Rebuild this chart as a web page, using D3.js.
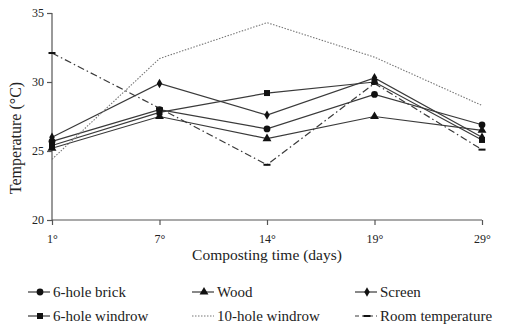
<!DOCTYPE html>
<html><head><meta charset="utf-8">
<script src="https://cdn.jsdelivr.net/npm/d3@7"></script>
<style>body{margin:0;background:#fff}svg{display:block}</style>
</head><body>
<svg id="c" width="523" height="331"></svg>
<script>
const days = ["1°","7°","14°","19°","29°"];
const brick   = [25.7, 28.0, 26.6, 29.1, 26.9];
const wood    = [25.2, 27.5, 25.9, 27.5, 26.5];
const screen  = [26.0, 29.9, 27.6, 30.3, 26.0];
const windrow6  = [25.4, 27.8, 29.2, 30.0, 25.8];
const windrow10 = [24.4, 31.7, 34.3, 31.8, 28.3];
const roomTemp  = [32.1, 28.1, 24.0, 29.9, 25.1];
const yTicks = [20, 25, 30, 35];

const series = [
  {name:"6-hole brick", values:brick, marker:"circle", dash:null},
  {name:"Wood", values:wood, marker:"triangle", dash:null},
  {name:"Screen", values:screen, marker:"diamond", dash:null},
  {name:"6-hole windrow", values:windrow6, marker:"square", dash:null},
  {name:"10-hole windrow", values:windrow10, marker:"none", dash:"1.5,1.5"},
  {name:"Room temperature", values:roomTemp, marker:"dash", dash:"7,3,1.5,3"}
];

const svg = d3.select("#c");
const col = "#3a3a3a";
const x = d3.scalePoint().domain(days).range([52, 482]);
const y = d3.scaleLinear().domain([20, 35]).range([220, 13]);

const gy = svg.append("g").attr("transform","translate(52,0)")
  .call(d3.axisLeft(y).tickValues(yTicks).tickSize(5).tickSizeOuter(0));
const gx = svg.append("g").attr("transform","translate(0,220)")
  .call(d3.axisBottom(x).tickSize(5).tickSizeOuter(0));
[gx, gy].forEach(g => {
  g.select(".domain").attr("stroke", "#555").attr("stroke-width", 1.2);
  g.selectAll(".tick line").attr("stroke", "#555").attr("stroke-width", 1.2);
  g.selectAll("text").attr("font-family","Liberation Serif").attr("font-size", 12).attr("fill","#222");
});
gx.selectAll("text").attr("dy", "1.25em");
gy.select(".domain").remove();
svg.append("line").attr("x1",52).attr("x2",52).attr("y1",y(20)).attr("y2",y(35)).attr("stroke","#555").attr("stroke-width",1.2);
gx.select(".domain").attr("d", `M52,0H${x(days[days.length-1])}`);

svg.append("text").attr("x", 267).attr("y", 260).attr("text-anchor","middle")
  .attr("font-family","Liberation Serif").attr("font-size", 15.5).attr("fill","#222")
  .text("Composting time (days)");
svg.append("text").attr("transform","translate(21,138) rotate(-90)").attr("text-anchor","middle")
  .attr("font-family","Liberation Serif").attr("font-size", 16).attr("fill","#222")
  .text("Temperature (°C)");

function drawMarker(g, type, cx, cy) {
  if (type === "circle") g.append("circle").attr("cx",cx).attr("cy",cy).attr("r",3.4).attr("fill","#111");
  else if (type === "triangle") g.append("path").attr("d", d3.symbol(d3.symbolTriangle, 34)()).attr("transform",`translate(${cx},${cy})`).attr("fill","#111");
  else if (type === "diamond") g.append("path").attr("d", d3.symbol(d3.symbolDiamond, 26)()).attr("transform",`translate(${cx},${cy})`).attr("fill","#111");
  else if (type === "square") g.append("rect").attr("x",cx-3).attr("y",cy-3).attr("width",6).attr("height",6).attr("fill","#111");
  else if (type === "dash") g.append("rect").attr("x",cx-3.5).attr("y",cy-1).attr("width",7).attr("height",2).attr("fill","#111");
}

const line = d3.line().x((d,i)=>x(days[i])).y(d=>y(d));
series.forEach(s => {
  const g = svg.append("g");
  g.append("path").attr("d", line(s.values)).attr("fill","none")
    .attr("stroke", s.marker==="none" ? "#777" : col).attr("stroke-width", s.marker==="none"?1.1:1.2)
    .attr("stroke-dasharray", s.dash);
  s.values.forEach((v,i) => drawMarker(g, s.marker, x(days[i]), y(v)));
});

const legCols = [28, 192, 355];
const legRows = [292, 316];
series.forEach((s, i) => {
  const lx = legCols[i % 3], ly = legRows[Math.floor(i / 3)];
  const g = svg.append("g");
  g.append("line").attr("x1", lx).attr("x2", lx+22).attr("y1", ly).attr("y2", ly)
    .attr("stroke", s.marker==="none" ? "#777" : col).attr("stroke-width", 1.2)
    .attr("stroke-dasharray", s.dash ? (s.marker==="dash" ? "4,3" : s.dash) : null);
  drawMarker(g, s.marker, lx+12, ly);
  g.append("text").attr("x", lx+25).attr("y", ly+5)
    .attr("font-family","Liberation Serif").attr("font-size", 15).attr("fill","#222")
    .text(s.name);
});
</script>
</body></html>
